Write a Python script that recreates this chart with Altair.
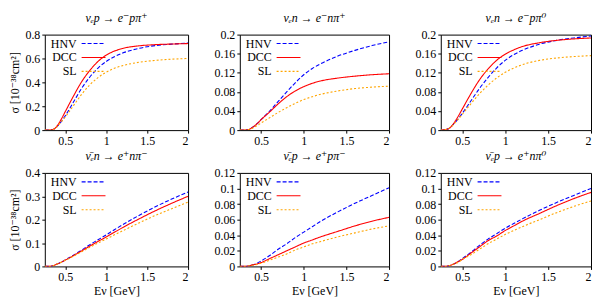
import altair as alt
import pandas as pd

E = [0.25, 0.3, 0.35, 0.4, 0.45, 0.5, 0.6, 0.7, 0.8, 0.9, 1.0, 1.1, 1.2, 1.4, 1.6, 1.8, 2.0]
models = ["HNV", "DCC", "SL"]
colors = ["#0000ff", "#ff0000", "#ffa500"]
dashes = [[4, 2], [1, 0], [2, 2]]

titles = [
    "νₑp → e⁻pπ⁺", "νₑn → e⁻nπ⁺", "νₑn → e⁻pπ⁰",
    "ν̄ₑn → e⁺nπ⁻", "ν̄ₑp → e⁺pπ⁻", "ν̄ₑp → e⁺nπ⁰",
]

# panel 1
p1_hnv = [0, 0, 0.005, 0.03, 0.07, 0.12, 0.235, 0.35, 0.445, 0.52, 0.575, 0.615, 0.645, 0.685, 0.708, 0.72, 0.73]
p1_dcc = [0, 0, 0.005, 0.035, 0.09, 0.155, 0.285, 0.405, 0.5, 0.575, 0.628, 0.662, 0.684, 0.706, 0.716, 0.721, 0.725]
p1_sl = [0, 0, 0.005, 0.03, 0.068, 0.11, 0.205, 0.3, 0.38, 0.44, 0.485, 0.518, 0.54, 0.568, 0.584, 0.594, 0.60]
# panel 2
p2_hnv = [0, 0, 0.001, 0.006, 0.013, 0.022, 0.04, 0.06, 0.08, 0.099, 0.116, 0.129, 0.139, 0.155, 0.167, 0.177, 0.185]
p2_dcc = [0, 0, 0.001, 0.006, 0.013, 0.022, 0.038, 0.055, 0.07, 0.082, 0.091, 0.098, 0.103, 0.109, 0.113, 0.116, 0.118]
p2_sl = [0, 0, 0.001, 0.004, 0.009, 0.015, 0.026, 0.037, 0.047, 0.056, 0.064, 0.07, 0.075, 0.082, 0.087, 0.09, 0.092]
# panel 3
p3_hnv = [0, 0.001, 0.004, 0.013, 0.023, 0.035, 0.061, 0.087, 0.11, 0.13, 0.146, 0.158, 0.167, 0.18, 0.188, 0.193, 0.197]
p3_dcc = [0, 0.001, 0.004, 0.014, 0.028, 0.044, 0.076, 0.105, 0.128, 0.146, 0.159, 0.168, 0.175, 0.183, 0.188, 0.191, 0.193]
p3_sl = [0, 0.001, 0.004, 0.012, 0.022, 0.033, 0.055, 0.076, 0.094, 0.109, 0.121, 0.13, 0.137, 0.146, 0.151, 0.154, 0.156]
# panel 4
p4_hnv = [0, 0, 0.003, 0.01, 0.018, 0.028, 0.048, 0.07, 0.093, 0.114, 0.135, 0.157, 0.178, 0.218, 0.255, 0.288, 0.318]
p4_dcc = [0, 0, 0.003, 0.01, 0.018, 0.027, 0.046, 0.066, 0.087, 0.107, 0.126, 0.146, 0.166, 0.203, 0.238, 0.27, 0.30]
p4_sl = [0, 0, 0.003, 0.01, 0.018, 0.026, 0.044, 0.063, 0.082, 0.1, 0.117, 0.135, 0.152, 0.186, 0.218, 0.247, 0.275]
# panel 5
p5_hnv = [0, 0, 0.0005, 0.002, 0.004, 0.007, 0.014, 0.022, 0.029, 0.037, 0.044, 0.051, 0.058, 0.07, 0.081, 0.091, 0.101]
p5_dcc = [0, 0, 0.0005, 0.002, 0.003, 0.005, 0.01, 0.015, 0.02, 0.025, 0.03, 0.034, 0.038, 0.045, 0.052, 0.058, 0.063]
p5_sl = [0, 0, 0.0005, 0.0015, 0.0025, 0.004, 0.008, 0.012, 0.016, 0.021, 0.025, 0.029, 0.032, 0.038, 0.043, 0.048, 0.052]
# panel 6
p6_hnv = [0, 0, 0.001, 0.003, 0.006, 0.01, 0.018, 0.027, 0.035, 0.042, 0.049, 0.055, 0.061, 0.072, 0.082, 0.091, 0.1]
p6_dcc = [0, 0, 0.001, 0.003, 0.006, 0.009, 0.017, 0.025, 0.033, 0.039, 0.046, 0.052, 0.058, 0.068, 0.078, 0.087, 0.095]
p6_sl = [0, 0, 0.001, 0.003, 0.005, 0.009, 0.015, 0.022, 0.029, 0.035, 0.041, 0.046, 0.051, 0.06, 0.069, 0.077, 0.084]

series = [
    (p1_hnv, p1_dcc, p1_sl), (p2_hnv, p2_dcc, p2_sl), (p3_hnv, p3_dcc, p3_sl),
    (p4_hnv, p4_dcc, p4_sl), (p5_hnv, p5_dcc, p5_sl), (p6_hnv, p6_dcc, p6_sl),
]
ymax = [0.8, 0.2, 0.2, 0.4, 0.12, 0.12]
yticks = [
    [0, 0.2, 0.4, 0.6, 0.8],
    [0, 0.04, 0.08, 0.12, 0.16, 0.2],
    [0, 0.04, 0.08, 0.12, 0.16, 0.2],
    [0, 0.1, 0.2, 0.3, 0.4],
    [0, 0.02, 0.04, 0.06, 0.08, 0.1, 0.12],
    [0, 0.02, 0.04, 0.06, 0.08, 0.1, 0.12],
]
xticks = [0.5, 1, 1.5, 2]

FONT = "Liberation Serif, DejaVu Serif, serif"
widths = [144, 150, 151]
heights = [96, 94]


def panel(i):
    col, row = i % 3, i // 3
    rows = []
    for m, vals in zip(models, series[i]):
        for e, s in zip(E, vals):
            rows.append({"model": m, "E": e, "sigma": s})
    df = pd.DataFrame(rows)
    color = alt.Color("model:N", scale=alt.Scale(domain=models, range=colors), legend=None)
    dash = alt.StrokeDash("model:N", scale=alt.Scale(domain=models, range=dashes), legend=None)
    xax = alt.Axis(values=xticks, format="~g", labelOverlap=False, title="Eν [GeV]" if row == 1 else None)
    yax = alt.Axis(values=yticks[i], format="~g", labelOverlap=False, labelFlush=False,
                   title="σ [10⁻³⁸cm²]" if col == 0 else None)
    # tiny headroom so the top tick survives floating-point range checks
    top_val = ymax[i] * (1 + 1e-9)
    lines = alt.Chart(df).mark_line(strokeWidth=1.1, interpolate="monotone", clip=True).encode(
        x=alt.X("E:Q", scale=alt.Scale(domain=[0.25, 2], nice=False, zero=False), axis=xax),
        y=alt.Y("sigma:Q", scale=alt.Scale(domain=[0, top_val], nice=False), axis=yax),
        color=color,
        strokeDash=dash,
    )
    leg = pd.DataFrame({"model": models})
    ly = alt.Y("model:N", scale=alt.Scale(type="point", domain=models, range=[9, 37], padding=0), axis=None)
    rule = alt.Chart(leg).mark_rule(strokeWidth=1.1).encode(
        x=alt.value(37), x2=alt.value(61), y=ly, color=color, strokeDash=dash
    )
    txt = alt.Chart(leg).mark_text(align="right", baseline="middle", font=FONT, fontSize=12).encode(
        x=alt.value(32), y=ly, text="model:N", color=alt.value("black")
    )
    return alt.layer(lines, rule, txt).resolve_scale(y="independent").properties(
        width=widths[col], height=heights[row],
        title=alt.Title(titles[i], font=FONT, fontStyle="italic", fontSize=12, fontWeight="normal", offset=4),
    )


top = alt.hconcat(*[panel(i) for i in range(3)], spacing=24)
bottom = alt.hconcat(*[panel(i) for i in range(3, 6)], spacing=24)
chart = alt.vconcat(top, bottom, spacing=2).properties(
    padding={"top": 2, "left": 0, "right": 0, "bottom": 0}
).configure_axis(
    labelFont=FONT, labelFontSize=12, titleFont=FONT, titleFontSize=12, titleFontWeight="normal",
    grid=False, domain=False, tickSize=3, tickColor="black", labelColor="black", titleColor="black",
    labelPadding=2, titlePadding=3,
).configure_view(stroke="black", strokeWidth=1).configure_title(color="black")

chart.save("out.html", embed_options={"renderer": "svg", "actions": False})
